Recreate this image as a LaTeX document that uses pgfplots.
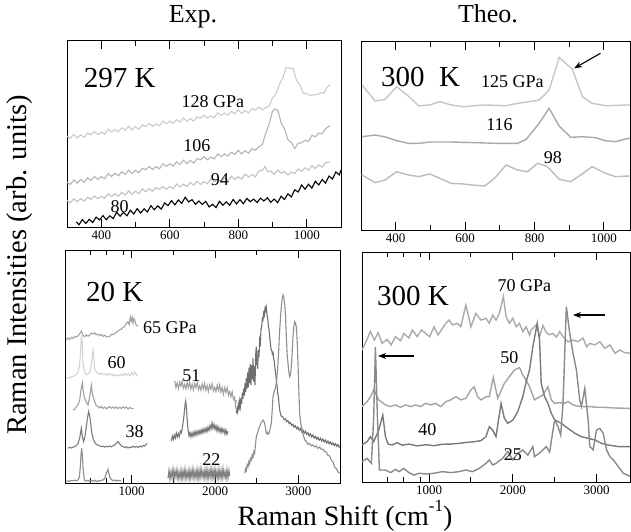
\documentclass[border=0pt]{standalone}
\usepackage{fontspec}
\setmainfont{Liberation Serif}
\usepackage{pgfplots}
\pgfplotsset{compat=1.18}
\usetikzlibrary{arrows.meta}
\newcommand{\fs}[1]{\fontsize{#1}{#1}\selectfont}
\definecolor{gA}{HTML}{CBCBCB}
\definecolor{gB}{HTML}{B4B4B4}
\definecolor{gC}{HTML}{C2C2C2}
\definecolor{tA}{HTML}{C6C6C6}
\definecolor{tB}{HTML}{A9A9A9}
\definecolor{tC}{HTML}{BCBCBC}
\definecolor{lo1}{HTML}{A3A3A3}
\definecolor{lo2}{HTML}{D2D2D2}
\definecolor{lo3}{HTML}{A0A0A0}
\definecolor{lo4}{HTML}{7C7C7C}
\definecolor{lo5}{HTML}{8C8C8C}
\definecolor{mid1}{HTML}{A2A2A2}
\definecolor{mid2}{HTML}{767676}
\definecolor{mid3}{HTML}{808080}
\definecolor{hiA}{HTML}{6E6E6E}
\definecolor{hiB}{HTML}{8E8E8E}
\definecolor{r70}{HTML}{AAAAAA}
\definecolor{r50}{HTML}{A3A3A3}
\definecolor{r40}{HTML}{7A7A7A}
\definecolor{r25}{HTML}{8A8A8A}

\pgfplotsset{
  panel/.style={
    scale only axis, anchor=south west, no markers,
    ymin=0, ymax=100, ytick=\empty,
    major tick length=8pt, minor tick length=5pt,
    minor xtick={500,700,900,1500,2500,3500},
    axis line style={line width=1pt},
    every tick/.append style={black, line width=1pt},
    tick label style={font=\fs{13}},
    /pgf/number format/assume math mode=true,
    /pgf/number format/1000 sep={},
  },
  exp/.style={line width=1.1pt},
  theo/.style={line width=1.4pt},
}
\tikzset{
  lab/.style={font=\fs{18}},
  big/.style={font=\fs{29}},
}

\begin{document}
\begin{tikzpicture}
\path[use as bounding box] (0,0) rectangle (631pt,531pt);

% ---- Exp. 297 K
\begin{axis}[panel, at={(67pt,304pt)}, width=274pt, height=186pt,
  xmin=300, xmax=1100, xtick={400,600,800,1000}]
\addplot[exp, gA] coordinates {
(300,48.9)(310,47.6)(320,49.8)(330,47.8)(340,49.5)(350,48.1)(360,50.5)(370,49.6)(380,51.3)(390,49.7)
(400,51.0)(410,49.9)(420,52.6)(430,51.1)(440,52.5)(450,51.2)(460,53.3)(470,52.0)(480,54.2)(490,52.2)
(500,53.9)(510,52.5)(520,54.9)(530,54.0)(540,55.7)(550,54.1)(560,55.4)(570,54.4)(580,57.0)(590,55.5)
(600,56.9)(610,55.7)(620,57.7)(630,56.4)(640,58.6)(650,56.7)(660,58.3)(670,56.9)(680,59.3)(690,58.5)
(700,60.1)(710,58.5)(720,59.8)(730,58.8)(740,61.4)(750,59.9)(760,61.3)(770,60.1)(780,62.1)(790,60.8)
(800,63.0)(810,61.1)(820,62.7)(830,61.3)(840,63.7)(850,62.9)(860,64.5)(870,62.9)(880,64.2)(890,64.9)
(900,69.3)(910,71.5)(920,76.6)(930,80.1)(940,85.9)(950,85.3)(960,85.2)(970,79.0)(980,76.4)(990,71.7)
(1000,71.8)(1010,70.7)(1020,71.1)(1030,71.2)(1040,72.2)(1050,71.9)(1060,75.3)(1068,76.5)};
\addplot[exp, gB] coordinates {
(300,24.0)(310,22.9)(320,25.3)(330,23.6)(340,25.6)(350,24.0)(360,26.4)(370,25.1)(380,27.2)(390,25.6)
(400,27.1)(410,26.0)(420,28.7)(430,27.2)(440,28.8)(450,27.6)(460,29.7)(470,28.3)(480,30.6)(490,28.8)
(500,30.5)(510,29.2)(520,31.6)(530,30.8)(540,32.5)(550,30.9)(560,32.5)(570,31.3)(580,34.0)(590,32.6)
(600,34.0)(610,32.8)(620,35.0)(630,33.7)(640,35.9)(650,34.0)(660,35.8)(670,34.4)(680,36.8)(690,36.1)
(700,37.8)(710,36.2)(720,37.5)(730,36.6)(740,39.3)(750,37.8)(760,39.3)(770,38.1)(780,40.2)(790,39.0)
(800,41.2)(810,39.3)(820,41.0)(830,39.7)(840,42.1)(850,41.3)(860,43.1)(870,44.2)(880,50.2)(890,55.1)
(900,62.3)(908,63.5)(916,62.6)(925,56.1)(935,52.9)(945,46.9)(955,45.5)(965,42.1)(975,45.1)(985,45.2)
(995,46.7)(1005,45.9)(1015,49.3)(1025,48.5)(1035,50.6)(1045,50.1)(1055,52.8)(1068,54.6)};
\addplot[exp, gC] coordinates {
(300,14.2)(310,13.1)(320,15.2)(330,13.5)(340,15.3)(350,13.8)(360,16.0)(370,14.9)(380,16.7)(390,15.2)
(400,16.5)(410,15.4)(420,17.9)(430,16.4)(440,17.9)(450,16.6)(460,18.6)(470,17.2)(480,19.4)(490,17.6)
(500,19.3)(510,17.9)(520,20.5)(530,18.9)(540,20.7)(550,19.2)(560,21.2)(570,20.2)(580,21.9)(590,20.3)
(600,21.7)(610,20.6)(620,23.1)(630,21.6)(640,23.0)(650,21.8)(660,23.9)(670,22.5)(680,24.6)(690,22.9)
(700,24.4)(710,23.2)(720,25.8)(730,24.2)(740,25.7)(750,24.4)(760,26.4)(770,25.1)(780,27.2)(790,25.5)
(800,27.0)(810,25.8)(820,28.4)(830,26.9)(840,28.3)(850,27.0)(860,30.2)(870,30.4)(878,32.5)(886,29.8)
(895,30.1)(905,28.2)(915,30.6)(925,28.9)(935,29.8)(945,28.0)(955,29.5)(965,28.7)(975,31.3)(985,29.9)
(995,31.8)(1005,30.6)(1015,32.9)(1025,31.4)(1035,33.4)(1045,32.2)(1055,34.6)(1068,35.0)};
\addplot[exp, black] coordinates {
(327,2.8)(335,1.2)(345,4.0)(355,1.9)(365,4.1)(375,2.4)(385,5.3)(395,3.8)(405,6.1)(415,3.9)
(425,6.0)(435,4.5)(445,8.0)(455,5.8)(465,7.9)(475,6.0)(485,9.0)(495,7.0)(505,9.9)(515,7.5)
(525,9.8)(535,8.1)(545,11.5)(555,9.3)(565,11.4)(575,9.6)(585,12.9)(595,11.5)(605,14.2)(615,11.9)
(625,14.5)(635,12.7)(645,16.0)(655,13.5)(665,14.7)(675,12.2)(685,14.0)(695,12.1)(705,13.8)(715,10.8)
(725,12.2)(735,10.4)(745,13.8)(755,11.7)(765,13.5)(775,11.7)(785,14.8)(795,12.4)(805,14.7)(815,12.5)
(825,15.4)(835,13.6)(845,15.0)(855,13.2)(865,15.5)(875,14.0)(885,15.7)(895,13.3)(905,15.0)(915,13.1)
(925,16.5)(935,14.8)(945,17.8)(955,16.2)(965,20.0)(975,18.8)(985,22.6)(995,20.3)(1005,23.0)(1015,20.9)
(1025,24.6)(1035,22.6)(1045,25.5)(1055,23.6)(1065,27.4)(1075,25.8)(1085,29.6)(1095,28.0)(1100,30.5)};
\node[big] at (axis cs:454,80) {297 K};
\node[lab] at (axis cs:726,67.2) {128 GPa};
\node[lab] at (axis cs:679,43.5) {106};
\node[lab] at (axis cs:746,25.3) {94};
\node[lab] at (axis cs:454,10.8) {80};
\end{axis}

% ---- Theo. 300 K (high pressure)
\begin{axis}[panel, at={(361pt,301pt)}, width=269pt, height=188pt,
  xmin=300, xmax=1075, xtick={400,600,800,1000}]
\addplot[theo, tA] coordinates {
(303,77.1)(341,68.6)(369,69.5)(403,76.2)(436,71.3)(467,66.0)(498,66.5)(527,68.3)(560,66.5)(594,65.6)
(656,66.5)(718,66.1)(751,67.4)(813,69.1)(842,74.5)(871,91.8)(909,85.5)(938,70.9)(966,67.4)(1005,66.1)
(1071,66.5)(1080,66.6)};
\addplot[theo, tB] coordinates {
(302,49.6)(340,50.5)(369,49.6)(403,47.5)(436,46.1)(467,46.1)(498,46.8)(560,46.8)(622,46.5)(689,46.1)
(751,46.1)(776,48.2)(813,56.7)(842,64.7)(871,55.3)(904,49.3)(937,49.6)(976,49.1)(1004,47.5)(1033,47.0)
(1071,48.8)(1080,49.0)};
\addplot[theo, tC] coordinates {
(302,29.3)(341,25.2)(369,26.6)(403,31.0)(436,29.3)(467,28.4)(498,29.8)(527,27.5)(560,24.8)(594,24.5)
(622,23.9)(656,23.4)(685,27.5)(718,34.6)(751,31.9)(780,31.0)(809,35.5)(837,33.7)(871,27.0)(904,25.7)
(937,29.8)(966,33.7)(1004,30.2)(1033,28.4)(1071,28.7)(1080,28.8)};
\node[big] at (axis cs:472,81.4) {300\ \ K};
\node[lab] at (axis cs:736,78.7) {125 GPa};
\node[lab] at (axis cs:699,55.9) {116};
\node[lab] at (axis cs:853,38.3) {98};
\draw[-{Stealth[length=8pt,width=6pt]}, line width=1.1pt] (axis cs:990,94) -- (axis cs:914,86);
\end{axis}

% ---- Exp. 20 K
\begin{axis}[panel, at={(65pt,48pt)}, width=275pt, height=233pt,
  xmin=200, xmax=3500, xtick={1000,2000,3000}]
\addplot[exp, lo1] coordinates {
(216,61.4)(236,62.3)(256,61.6)(276,62.5)(296,62.1)(316,62.9)(336,62.6)(356,63.1)(376,64.0)(396,65.2)
(416,63.5)(436,62.8)(456,63.6)(476,63.0)(496,63.5)(516,64.3)(536,63.9)(556,64.5)(576,63.6)(596,63.9)
(616,63.2)(636,63.8)(656,62.9)(676,63.5)(696,62.7)(716,62.9)(736,62.8)(756,63.8)(776,63.6)(796,64.2)
(816,64.6)(836,65.3)(856,65.7)(876,66.0)(896,66.8)(916,67.1)(936,68.5)(956,69.2)(970,68.0)(984,71.4)
(996,69.5)(1006,71.0)(1016,68.7)(1026,70.5)(1036,70.0)(1050,68.0)(1065,67.5)(1076,67.8)};
\addplot[exp, lo2] coordinates {
(216,44.9)(240,45.3)(260,45.1)(280,45.6)(300,45.8)(320,46.3)(340,46.8)(356,47.8)(370,49.5)(384,54.2)
(392,60.0)(400,63.5)(408,60.0)(416,51.4)(430,48.2)(456,46.4)(480,46.8)(500,47.5)(515,50.5)(528,55.0)
(536,57.0)(544,54.0)(556,49.2)(575,47.6)(596,47.1)(620,46.6)(640,47.2)(660,46.5)(680,46.9)(700,46.2)
(720,47.0)(740,46.4)(760,46.8)(780,46.1)(800,46.6)(820,45.9)(840,46.5)(860,46.0)(880,46.7)(900,46.2)
(920,47.0)(940,46.3)(960,46.8)(980,46.0)(1000,47.5)(1020,46.4)(1036,47.8)(1050,46.9)(1062,46.3)(1076,45.8)};
\addplot[exp, lo3] coordinates {
(296,31.3)(316,31.6)(336,32.8)(356,33.5)(376,35.6)(392,40.0)(408,43.0)(420,39.0)(436,36.3)(456,34.6)
(476,33.5)(496,37.0)(516,42.0)(530,38.0)(556,34.9)(576,33.2)(596,32.8)(616,32.2)(636,32.9)(656,32.0)
(676,32.6)(696,31.8)(716,32.5)(736,32.8)(756,32.1)(776,32.7)(796,32.0)(816,32.6)(836,31.9)(856,32.5)
(876,32.0)(896,32.8)(916,32.1)(936,32.6)(956,31.8)(976,32.4)(996,32.0)(1024,32.0)};
\addplot[exp, lo4] coordinates {
(236,14.9)(256,15.3)(276,15.0)(296,15.4)(316,15.6)(336,16.0)(356,17.0)(376,19.2)(396,23.5)(410,19.5)
(424,17.8)(440,20.0)(456,24.2)(470,28.0)(484,30.7)(494,29.0)(504,27.1)(520,22.0)(536,19.2)(556,17.5)
(576,16.5)(596,16.3)(616,15.9)(636,15.6)(656,15.8)(676,15.4)(696,15.7)(716,15.5)(736,15.9)(756,15.5)
(776,16.0)(796,16.3)(816,17.0)(836,17.8)(856,16.8)(876,15.9)(896,15.6)(916,15.2)(936,15.6)(956,15.0)
(976,15.4)(996,15.2)(1016,15.8)(1036,15.3)(1056,15.7)(1076,15.2)(1096,15.8)(1116,15.5)(1136,16.1)(1156,15.8)
(1176,16.6)(1184,17.0)};
\addplot[exp, lo5] coordinates {
(216,0.6)(236,1.0)(256,0.7)(276,1.1)(296,1.0)(316,1.2)(336,1.0)(356,1.3)(372,2.5)(384,7.0)
(392,12.0)(400,14.9)(408,12.0)(416,7.0)(426,3.0)(436,1.0)(456,0.8)(476,1.2)(496,0.6)(516,1.1)
(536,0.7)(556,1.2)(576,0.6)(596,1.0)(616,0.8)(636,1.2)(656,1.3)(676,2.0)(696,4.1)(716,5.8)
(736,2.7)(756,1.5)(776,1.0)(796,1.3)(816,0.8)(836,1.2)(856,0.9)(876,1.0)};
\addplot[exp, mid1] coordinates {
(1516,43.9)(1531,40.9)(1546,43.0)(1561,40.5)(1576,43.3)(1591,41.5)(1606,43.8)(1621,40.7)(1636,42.3)(1651,40.4)
(1666,43.2)(1681,40.9)(1696,43.3)(1711,40.3)(1726,42.4)(1741,39.9)(1756,42.7)(1771,40.9)(1786,43.2)(1801,40.1)
(1816,41.7)(1831,39.8)(1846,42.6)(1861,40.3)(1876,42.7)(1891,39.7)(1906,41.8)(1921,39.3)(1936,42.1)(1951,40.3)
(1966,42.6)(1981,39.5)(1996,41.1)(2011,39.2)(2026,42.0)(2041,39.7)(2056,42.2)(2071,39.0)(2086,41.0)(2101,38.2)
(2116,40.9)(2131,38.9)(2146,41.0)(2161,37.7)(2176,39.2)(2191,37.1)(2206,39.2)(2221,35.8)(2236,36.8)(2246,33.3)
(2256,35.5)};
\addplot[exp, mid2] coordinates {
(1476,18.0)(1488,20.1)(1500,18.7)(1512,20.6)(1524,19.3)(1536,21.4)(1548,19.8)(1560,21.2)(1572,20.0)(1584,22.3)
(1596,21.5)(1608,23.8)(1620,26.5)(1632,30.5)(1642,34.0)(1648,35.2)(1656,33.0)(1664,28.4)(1676,23.0)(1688,20.2)
(1700,21.6)(1712,19.8)(1724,21.5)(1736,20.0)(1748,22.0)(1760,20.4)(1772,22.2)(1784,20.6)(1796,22.4)(1808,21.0)
(1820,22.6)(1832,21.2)(1844,23.0)(1856,21.5)(1868,23.3)(1880,21.9)(1892,23.6)(1904,22.0)(1916,24.0)(1928,22.5)
(1940,24.6)(1952,23.2)(1964,25.8)(1976,23.5)(1988,25.2)(2000,23.0)(2012,24.6)(2024,22.3)(2036,24.2)(2048,22.1)
(2060,23.6)(2072,21.6)(2084,23.5)(2096,21.8)(2108,23.0)(2120,21.0)(2132,22.8)(2144,20.9)(2156,22.2)};
\addplot[exp, mid3] coordinates {
(1436,2.0)(1448,5.5)(1460,1.5)(1472,5.0)(1484,2.2)(1496,6.0)(1508,1.8)(1520,5.2)(1532,2.5)(1544,5.8)
(1556,1.6)(1568,4.8)(1580,2.0)(1592,5.6)(1604,1.4)(1616,5.3)(1628,2.3)(1640,6.1)(1652,1.7)(1664,5.0)
(1676,2.1)(1688,5.7)(1700,1.5)(1712,5.4)(1724,2.4)(1736,6.2)(1748,1.9)(1760,5.1)(1772,2.2)(1784,5.9)
(1796,1.6)(1808,5.5)(1820,2.0)(1832,6.3)(1844,2.6)(1856,5.2)(1868,1.8)(1880,5.8)(1892,2.1)(1904,6.0)
(1916,1.7)(1928,5.4)(1940,2.3)(1952,6.4)(1964,2.0)(1976,5.6)(1988,1.9)(2000,6.1)(2012,2.4)(2024,5.3)
(2036,1.6)(2048,5.9)(2060,2.2)(2072,5.5)(2084,1.8)(2096,6.2)(2108,2.5)(2120,5.0)(2132,1.7)(2144,5.8)
(2156,2.1)(2168,5.4)(2176,3.0)};
\addplot[exp, hiA] coordinates {
(2256,29.9)(2264,32.0)(2272,30.5)(2280,33.5)(2288,31.2)(2296,35.0)(2304,32.8)(2312,36.5)(2320,34.0)(2328,38.8)
(2336,36.2)(2344,40.5)(2352,37.5)(2360,42.8)(2368,39.0)(2376,45.0)(2384,40.5)(2392,47.5)(2400,41.0)(2408,49.5)
(2416,43.0)(2424,51.0)(2432,42.0)(2440,50.5)(2448,44.5)(2456,53.5)(2464,43.5)(2472,50.0)(2480,42.0)(2488,55.0)
(2496,58.5)(2504,51.0)(2512,49.0)(2520,57.0)(2528,54.0)(2536,61.4)(2544,60.0)(2552,66.0)(2560,67.0)(2568,70.5)
(2576,70.0)(2584,73.0)(2592,72.0)(2600,75.0)(2608,74.0)(2616,75.5)(2624,72.0)(2632,71.0)(2640,67.5)(2648,66.0)
(2656,63.0)(2664,60.0)(2672,57.5)(2680,57.0)(2688,55.5)(2696,56.0)(2704,53.5)(2712,52.0)(2720,49.0)(2728,47.0)
(2736,44.0)(2744,42.0)(2752,39.0)(2760,37.0)(2768,34.0)(2776,31.5)(2784,30.0)(2792,29.0)(2800,28.5)(2815,28.3)
(2830,27.2)(2845,27.6)(2860,26.3)(2875,26.8)(2890,25.5)(2905,26.0)(2920,24.7)(2935,25.2)(2950,23.9)(2965,24.6)
(2980,23.3)(2995,24.0)(3010,22.6)(3025,23.4)(3040,22.0)(3055,22.8)(3070,21.4)(3085,22.2)(3100,20.9)(3115,21.6)
(3130,20.2)(3145,21.1)(3160,19.8)(3175,20.6)(3190,19.3)(3205,20.0)(3220,18.8)(3235,19.6)(3250,18.4)(3265,19.2)
(3280,18.0)(3295,18.9)(3310,17.6)(3325,18.4)(3340,17.2)(3355,18.0)(3370,16.8)(3385,17.6)(3400,16.5)(3415,17.2)
(3430,16.1)(3445,16.9)(3460,15.8)(3475,16.5)(3490,15.4)(3500,15.8)};
\addplot[exp, hiB] coordinates {
(2356,4.2)(2366,6.0)(2376,5.2)(2386,7.8)(2396,7.0)(2406,9.2)(2416,8.2)(2426,10.5)(2436,9.9)(2446,12.0)
(2456,11.0)(2466,13.5)(2476,12.7)(2486,16.5)(2496,19.9)(2506,21.0)(2516,22.0)(2526,23.5)(2536,24.2)(2546,25.2)
(2556,26.0)(2566,26.5)(2576,27.0)(2586,26.5)(2596,25.6)(2606,23.5)(2616,21.3)(2626,21.8)(2636,20.9)(2648,21.3)
(2660,23.0)(2676,25.6)(2686,31.0)(2696,37.0)(2706,38.5)(2716,39.9)(2726,41.0)(2736,42.8)(2746,46.5)(2756,51.4)
(2766,58.0)(2776,65.7)(2786,71.0)(2796,75.7)(2806,79.0)(2816,80.7)(2826,79.5)(2836,77.1)(2846,72.0)(2856,62.8)
(2866,55.0)(2876,51.4)(2886,47.5)(2896,45.6)(2906,46.5)(2916,49.9)(2926,56.0)(2936,62.8)(2946,67.0)(2956,69.2)
(2966,68.5)(2976,67.0)(2986,61.0)(2996,51.4)(3006,40.0)(3016,29.9)(3026,26.5)(3036,24.2)(3056,21.0)(3076,18.5)
(3096,17.9)(3116,16.6)(3136,16.9)(3156,16.0)(3176,16.3)(3196,15.5)(3216,15.9)(3236,14.9)(3256,15.4)(3276,14.4)
(3296,14.5)(3316,13.5)(3336,13.3)(3356,11.9)(3376,11.6)(3396,9.9)(3416,9.0)(3436,6.8)(3456,6.2)(3476,4.7)
(3500,4.2)};
\node[big] at (axis cs:796,82.1) {20 K};
\node[lab, anchor=west] at (axis cs:1096,66.5) {65 GPa};
\node[lab] at (axis cs:820,51.5) {60};
\node[lab] at (axis cs:1036,21.9) {38};
\node[lab] at (axis cs:1716,46) {51};
\node[lab] at (axis cs:1956,9.9) {22};
\end{axis}

% ---- Theo. 300 K (low pressure)
\begin{axis}[panel, at={(362pt,49pt)}, width=268pt, height=230pt,
  xmin=200, xmax=3400, xtick={1000,2000,3000}]
\addplot[theo, r70] coordinates {
(200,57.4)(248,61.0)(300,65.4)(348,61.7)(392,64.9)(440,60.3)(500,62.0)(548,59.6)(600,63.2)(660,61.4)
(700,64.6)(760,62.6)(800,66.1)(860,63.2)(908,66.1)(960,64.6)(1008,63.2)(1060,67.5)(1108,63.9)(1160,66.8)
(1200,69.0)(1240,70.4)(1280,68.3)(1340,69.0)(1380,67.5)(1440,77.0)(1500,67.5)(1560,73.3)(1620,70.4)(1680,71.2)
(1720,69.0)(1760,72.6)(1800,70.4)(1840,73.3)(1888,80.6)(1920,71.9)(1960,69.0)(2000,71.2)(2040,67.5)(2080,69.0)
(2120,65.4)(2160,67.5)(2200,63.9)(2220,66.1)(2280,68.3)(2320,63.2)(2360,68.0)(2400,65.0)(2440,64.0)(2480,64.6)
(2520,63.0)(2560,65.4)(2600,63.2)(2660,61.0)(2720,61.7)(2780,61.0)(2840,62.6)(2880,58.8)(2920,60.3)(2980,59.6)
(3040,61.0)(3100,58.1)(3160,59.6)(3220,56.0)(3280,57.4)(3340,56.2)(3400,56.0)};
\addplot[theo, r50] coordinates {
(200,32.8)(260,34.9)(300,37.0)(340,40.0)(400,35.7)(480,33.5)(540,32.8)(600,33.5)(660,32.5)(720,33.5)
(780,32.8)(840,33.5)(900,32.8)(960,34.2)(1020,33.5)(1080,34.2)(1140,32.8)(1200,34.9)(1260,35.7)(1320,37.1)
(1380,35.7)(1440,36.4)(1500,40.0)(1540,41.4)(1580,37.1)(1620,35.7)(1680,37.1)(1720,37.1)(1768,45.5)(1820,36.4)
(1900,42.9)(1960,45.8)(2020,48.7)(2080,49.8)(2120,46.5)(2160,44.3)(2200,41.4)(2260,35.7)(2320,37.1)(2360,37.8)
(2420,41.4)(2460,35.7)(2500,34.2)(2560,34.5)(2620,34.2)(2660,35.0)(2720,33.5)(2780,33.0)(2840,32.8)(2920,32.8)
(3000,32.5)(3080,32.5)(3200,32.2)(3400,32.0)};
\addplot[theo, r40] coordinates {
(200,16.1)(260,17.5)(300,19.7)(340,17.5)(400,22.6)(448,29.1)(480,19.7)(512,16.5)(560,16.1)(620,17.1)
(680,16.0)(760,16.5)(860,15.7)(960,16.2)(1060,15.8)(1160,16.4)(1260,16.5)(1360,16.8)(1440,17.2)(1540,17.5)
(1620,18.0)(1680,19.7)(1720,24.1)(1760,22.6)(1800,19.7)(1860,34.2)(1900,27.7)(1940,25.5)(2000,26.9)(2060,30.6)
(2120,37.1)(2160,43.6)(2200,48.7)(2240,58.8)(2292,69.0)(2320,61.7)(2340,42.9)(2380,37.1)(2420,34.2)(2460,29.9)
(2500,27.0)(2580,25.5)(2660,23.3)(2740,21.2)(2820,19.7)(2900,19.0)(2980,18.3)(3060,16.8)(3140,16.1)(3260,15.4)
(3400,15.4)};
\addplot[theo, r25] coordinates {
(200,8.8)(260,10.3)(312,8.1)(340,28.5)(360,58.6)(384,28.5)(408,5.2)(480,5.2)(540,4.1)(600,5.5)
(640,4.5)(700,5.9)(760,4.1)(820,3.0)(880,3.8)(960,3.5)(1060,3.8)(1160,4.5)(1260,4.1)(1360,4.5)
(1440,5.2)(1520,4.5)(1600,5.9)(1680,8.1)(1720,9.6)(1760,7.4)(1800,8.1)(1880,10.3)(1940,13.3)(2000,9.6)
(2060,12.5)(2120,13.9)(2180,11.7)(2240,15.4)(2260,11.0)(2340,13.2)(2400,15.4)(2440,13.0)(2500,27.0)(2540,24.1)
(2572,20.4)(2600,34.2)(2640,76.2)(2680,64.6)(2720,55.9)(2760,48.7)(2800,35.7)(2820,32.8)(2860,40.7)(2900,27.0)
(2920,15.4)(2960,14.0)(3000,22.6)(3040,23.3)(3080,21.2)(3120,14.0)(3160,11.0)(3200,9.6)(3260,6.7)(3320,3.8)
(3412,2.3)};
\node[big] at (axis cs:808,81) {300 K};
\node[lab] at (axis cs:2140,85.6) {70 GPa};
\node[lab] at (axis cs:1960,54.2) {50};
\node[lab] at (axis cs:980,22.6) {40};
\node[lab] at (axis cs:2000,11.7) {25};
\draw[-{Stealth[length=8pt,width=6pt]}, line width=1.1pt] (axis cs:820,54.8) -- (axis cs:392,54.8);
\draw[-{Stealth[length=8pt,width=6pt]}, line width=1.1pt] (axis cs:3100,72.6) -- (axis cs:2720,72.6);
\end{axis}

\node[font=\fs{26}, anchor=base] at (193pt,508pt) {Exp.};
\node[font=\fs{26}, anchor=base] at (488pt,508pt) {Theo.};
\node[font=\fs{28.5}, rotate=90] at (20pt,266pt) {Raman Intensities (arb. units)};
\node[font=\fs{28}, anchor=base] at (345pt,6pt) {Raman Shift (cm\raisebox{0.5em}{\fs{17}-1})};
\end{tikzpicture}
\end{document}
